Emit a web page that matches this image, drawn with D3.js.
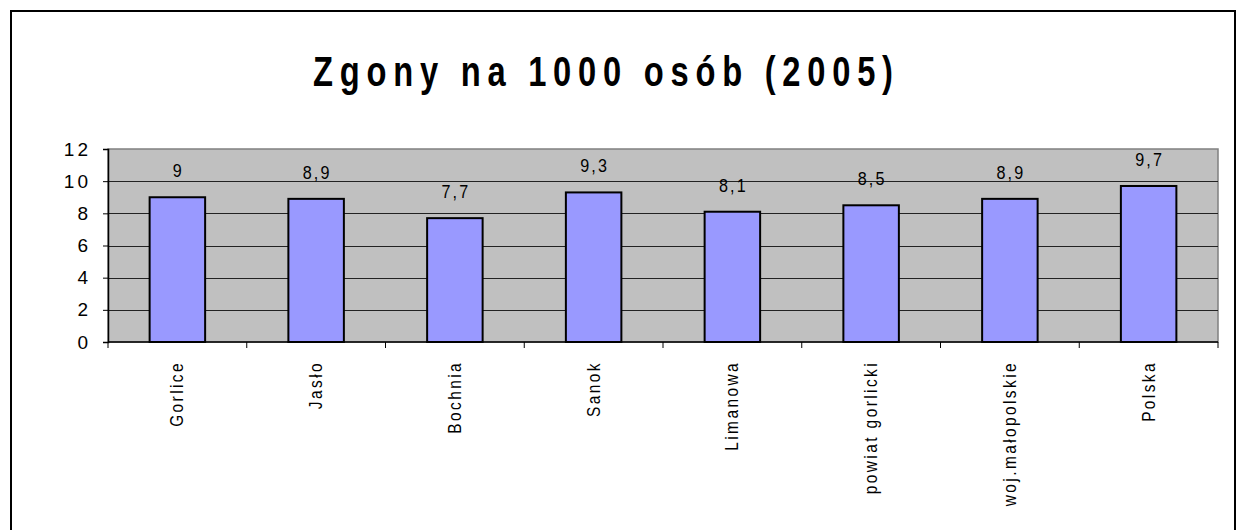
<!DOCTYPE html>
<html>
<head>
<meta charset="utf-8">
<script src="https://cdn.jsdelivr.net/npm/d3@7"></script>
<style>
  body { margin: 0; background: #fff; }
  svg { display: block; font-family: "Liberation Sans", Arial, sans-serif; }
</style>
</head>
<body>
<div id="chart"></div>
<script>
const width = 1239;
const height = 530;

const categories = ['Gorlice', 'Jasło', 'Bochnia', 'Sanok', 'Limanowa', 'powiat gorlicki', 'woj.małopolskie', 'Polska'];
const values = [9, 8.9, 7.7, 9.3, 8.1, 8.5, 8.9, 9.7];
const yTicks = [0, 2, 4, 6, 8, 10, 12];
const title = 'Zgony na 1000 osób (2005)';

const plot = {left: 108, right: 1218, top: 149, bottom: 342};

// decimal comma, as in the source
const fmt = v => String(v).replace('.', ',');

const svg = d3.select('#chart').append('svg')
  .attr('width', width)
  .attr('height', height);

// outer frame
svg.append('rect')
  .attr('x', 11).attr('y', 11)
  .attr('width', 1224).attr('height', 560)
  .attr('fill', '#fff')
  .attr('stroke', '#000')
  .attr('stroke-width', 2);

// title, condensed with wide spacing
svg.append('text')
  .attr('transform', 'translate(603,86) scale(0.76,1)')
  .attr('text-anchor', 'middle')
  .attr('font-size', 43)
  .attr('font-weight', 'bold')
  .attr('textLength', 580 / 0.76)
  .attr('lengthAdjust', 'spacing')
  .text(title);

const x = d3.scaleBand()
  .domain(categories)
  .range([plot.left, plot.right])
  .paddingInner(0.6)
  .paddingOuter(0.3);

const y = d3.scaleLinear()
  .domain([0, 12])
  .range([plot.bottom, plot.top]);

// plot area
svg.append('rect')
  .attr('x', plot.left).attr('y', plot.top)
  .attr('width', plot.right - plot.left)
  .attr('height', plot.bottom - plot.top)
  .attr('fill', '#c0c0c0')
  .attr('stroke', '#808080')
  .attr('stroke-width', 1.5);

// gridlines
svg.append('g')
  .selectAll('line')
  .data(yTicks.filter(t => t > 0 && t < 12))
  .join('line')
    .attr('x1', plot.left).attr('x2', plot.right)
    .attr('y1', d => Math.round(y(d)) + 0.5)
    .attr('y2', d => Math.round(y(d)) + 0.5)
    .attr('stroke', '#222')
    .attr('stroke-width', 1);

// bars
svg.append('g')
  .selectAll('rect')
  .data(values)
  .join('rect')
    .attr('x', (d, i) => x(categories[i]))
    .attr('y', d => y(d))
    .attr('width', x.bandwidth())
    .attr('height', d => y(0) - y(d))
    .attr('fill', '#9999ff')
    .attr('stroke', '#000')
    .attr('stroke-width', 2);

// value labels
svg.append('g')
  .selectAll('text')
  .data(values)
  .join('text')
    .attr('transform', (d, i) =>
      `translate(${x(categories[i]) + x.bandwidth() / 2 + 1},${y(d) - 20}) scale(0.85,1)`)
    .attr('text-anchor', 'middle')
    .attr('font-size', 19)
    .attr('letter-spacing', 2.5)
    .text(fmt);

// y axis
const yAxis = svg.append('g')
  .attr('transform', `translate(${plot.left},0)`)
  .call(d3.axisLeft(y).tickValues(yTicks).tickSize(5).tickPadding(12).tickFormat(d3.format('d')));
yAxis.select('.domain').attr('stroke', '#000').attr('stroke-width', 1.5);
yAxis.selectAll('.tick line').attr('stroke', '#000');
yAxis.selectAll('.tick text')
  .attr('font-size', 19)
  .attr('font-family', '"Liberation Sans", Arial, sans-serif')
  .attr('letter-spacing', 3)
  .attr('fill', '#000');

// x axis: ticks between categories
const bounds = d3.range(categories.length + 1).map(i => plot.left + i * x.step());
const xAxis = svg.append('g');
xAxis.append('line')
  .attr('x1', plot.left).attr('x2', plot.right)
  .attr('y1', plot.bottom).attr('y2', plot.bottom)
  .attr('stroke', '#000').attr('stroke-width', 1.5);
xAxis.selectAll('line.tick')
  .data(bounds)
  .join('line')
    .attr('class', 'tick')
    .attr('x1', d => d).attr('x2', d => d)
    .attr('y1', plot.bottom).attr('y2', plot.bottom + 6)
    .attr('stroke', '#000');

xAxis.selectAll('text')
  .data(categories)
  .join('text')
    .attr('transform', d =>
      `translate(${x(d) + x.bandwidth() / 2 + 6},${plot.bottom + 19}) rotate(-90) scale(0.86,1)`)
    .attr('text-anchor', 'end')
    .attr('font-size', 18)
    .attr('letter-spacing', 2.8)
    .text(d => d);
</script>
</body>
</html>
